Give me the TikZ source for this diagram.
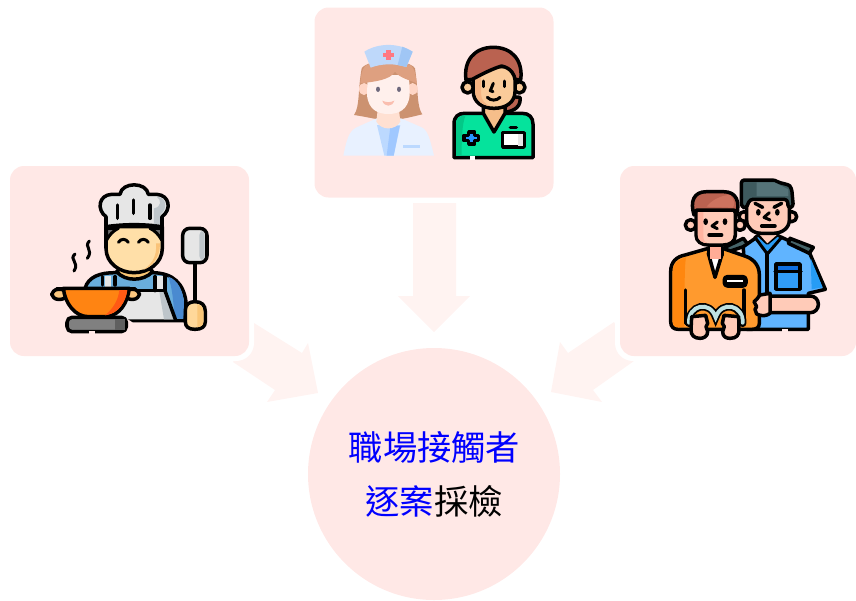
\documentclass[tikz,border=0pt]{standalone}
\usepackage{fontspec}
\newfontfamily\cjk{Noto Sans CJK TC}
\definecolor{boxpink}{HTML}{FFE8E6}
\definecolor{arrowpink}{HTML}{FFF3F1}
\definecolor{skinA}{HTML}{FFCBB8}
\definecolor{skinB}{HTML}{FACB9A}
\definecolor{skinC}{HTML}{FFDFA8}
\definecolor{hairR}{HTML}{BA6250}
\definecolor{greyL}{HTML}{E6E6E6}
\tikzset{
  boxnode/.style={fill=boxpink,rounded corners=14pt,inner sep=0pt,minimum height=190pt},
  halo/.style={fill=white,rounded corners=18pt},
  blockarrow/.style={fill=arrowpink},
  zoomed/.style={x=0.33333pt,y=-0.33333pt},
  ol/.style={draw=black,line width=3.5pt,line join=round,line cap=round},
  ln/.style={draw=black,line width=3.5pt,line cap=round,line join=round},
  lntk/.style={draw=black,line width=3pt,line cap=round,line join=round},
  caption/.style={inner sep=0pt,font=\cjk\fontsize{34.3}{36}\selectfont}
}
\begin{document}
\begin{tikzpicture}[x=1pt,y=-1pt]
\useasboundingbox (0,0) rectangle (856,600);
% block arrows
\path[blockarrow] (413,203) -- (456,203) -- (456,296) -- (470,296) -- (434,332) -- (398,296) -- (413,296) -- cycle;
\path[blockarrow] (254,323) -- (302,353) -- (308,343) -- (318,393) -- (267,402) -- (275,390) -- (233,362) -- cycle;
\path[blockarrow] (614,322) -- (568,353) -- (560,342) -- (551,392) -- (602,402) -- (593,390) -- (634,361) -- cycle;
% halos
\path[halo] (5,161) rectangle (254,361);
\path[halo] (615,161) rectangle (860,361);
% boxes
\node[boxnode,minimum width=239pt] (nurses) at (434,102.5) {};
\node[boxnode,minimum width=239pt] (chef) at (129.5,261) {};
\node[boxnode,minimum width=236pt] (police) at (738,261) {};
\node[circle,fill=boxpink,minimum size=252pt,inner sep=0pt] (hub) at (434,474) {};
\node[caption,text=blue] (line1) at (434.5,447) {職場接觸者};
\node[caption] (line2) at (434,501) {\textcolor{blue}{逐案}採檢};

% ---------- nurse + doctor ----------
\begin{scope}[shift={(315,0)},zoomed]
  % nurse hair back
  \fill[color={rgb,255:red,204;green,146;blue,112}] (140,205) .. controls (128,270) and (135,320) .. (117,345) .. controls (150,350) and (170,355) .. (190,358) -- (250,358) .. controls (275,355) and (300,348) .. (322,343) .. controls (305,320) and (310,270) .. (300,205) .. controls (280,175) and (160,175) .. (140,205) -- cycle;
  % coat
  \fill[color={rgb,255:red,232;green,241;blue,255}] (85,467) .. controls (95,420) and (100,395) .. (125,382) -- (185,355) -- (258,355) -- (320,382) .. controls (340,392) and (345,420) .. (357,467) -- cycle;
  \fill[color={rgb,255:red,188;green,217;blue,255}] (186,375) -- (208,467) -- (236,467) -- (256,375) -- cycle;
  \fill[color={rgb,255:red,160;green,200;blue,255}] (226,380) -- (215,467) -- (236,467) -- (254,378) -- cycle;
  \fill[color={rgb,255:red,188;green,217;blue,255}] (265,434) rectangle (316,444);
  % neck
  \fill[color={rgb,255:red,255;green,224;blue,210}] (188,330) -- (252,330) -- (256,365) .. controls (240,392) and (200,392) .. (184,365) -- cycle;
  % ears
  \fill[color={rgb,255:red,255;green,214;blue,198}] (147,267) ellipse (15 and 18);
  \fill[color={rgb,255:red,255;green,214;blue,198}] (293,267) ellipse (15 and 18);
  % face
  \fill[color={rgb,255:red,255;green,240;blue,236}] (158,225) -- (282,225) -- (284,285) .. controls (280,330) and (250,342) .. (220,342) .. controls (190,342) and (160,330) .. (156,285) -- cycle;
  % fringe
  \fill[color={rgb,255:red,222;green,160;blue,128}] (136,250) .. controls (138,215) and (145,195) .. (165,190) -- (275,190) .. controls (295,195) and (302,215) .. (305,250) .. controls (285,240) and (255,235) .. (240,215) .. controls (225,240) and (180,245) .. (136,250) -- cycle;
  % cap
  \fill[color={rgb,255:red,190;green,216;blue,250}] (148,155) .. controls (190,128) and (250,128) .. (293,155) -- (274,201) .. controls (240,190) and (200,190) .. (167,203) -- cycle;
  \fill[color={rgb,255:red,160;green,198;blue,245}] (262,140) .. controls (272,144) and (283,149) .. (293,155) -- (274,201) -- (248,195) -- cycle;
  \fill[color={rgb,255:red,255;green,120;blue,130}] (214,150) rectangle (227,181);
  \fill[color={rgb,255:red,255;green,120;blue,130}] (205,159) rectangle (236,172);
  % eyes + smile
  \fill[color={rgb,255:red,110;green,105;blue,125}] (189,268) ellipse (6 and 8);
  \fill[color={rgb,255:red,110;green,105;blue,125}] (252,268) ellipse (6 and 8);
  \fill[color={rgb,255:red,250;green,190;blue,175}] (202,302) .. controls (215,308) and (225,308) .. (238,302) .. controls (232,322) and (208,322) .. (202,302) -- cycle;

  % doctor: ponytail
  \path[ol,fill=hairR] (590,290) -- (615,292) .. controls (618,315) and (605,335) .. (560,338) -- cycle;
  % body
  \path[ol,fill={rgb,255:red,5;green,227;blue,156}] (417,473) -- (417,372) .. controls (417,350) and (430,340) .. (448,340) -- (622,340) .. controls (642,340) and (654,352) .. (654,372) -- (654,473) -- cycle;
  \fill[color={rgb,255:red,3;green,200;blue,135}] (423,465) -- (423,372) .. controls (423,358) and (432,347) .. (452,346) .. controls (440,370) and (440,430) .. (440,465) -- cycle;
  \fill[color=white] (464,468) rectangle (480,480);
  % neck V
  \path[ol,fill={rgb,255:red,246;green,190;blue,138}] (505,320) -- (505,340) -- (537,396) -- (570,340) -- (570,320) -- cycle;
  % ears
  \path[ol,fill=skinB] (458,262) circle (17);
  \path[ol,fill=skinB] (613,262) circle (17);
  % head
  \path[ol,fill=skinB] (475,200) -- (600,200) -- (600,275) .. controls (600,305) and (575,325) .. (537,325) .. controls (500,325) and (475,305) .. (475,275) -- cycle;
  \fill[color={rgb,255:red,245;green,180;blue,130}] (480,230) -- (498,220) -- (498,280) .. controls (498,300) and (510,312) .. (525,318) .. controls (495,315) and (480,295) .. (480,270) -- cycle;
  % hair
  \path[ol,fill=hairR] (453,240) .. controls (445,180) and (480,142) .. (535,142) .. controls (590,142) and (625,180) .. (617,240) -- (600,238) .. controls (598,225) and (590,205) .. (560,198) .. controls (535,205) and (495,225) .. (472,238) -- cycle;
  % face features
  \draw[lntk] (504,243) -- (504,260);
  \draw[lntk] (567,243) -- (567,260);
  \draw[lntk] (535,250) -- (526,272) -- (534,275);
  \draw[lntk] (517,292) .. controls (527,303) and (545,303) .. (555,292);
  % cross
  \path[ol,fill={rgb,255:red,40;green,150;blue,255}] (461,396) -- (479,396) -- (479,406) -- (491,406) -- (491,422) -- (479,422) -- (479,432) -- (461,432) -- (461,422) -- (447,422) -- (447,406) -- (461,406) -- cycle;
  % badge
  \path[ol,fill=white] (563,398) rectangle (627,441);
  \fill[color=greyL] (610,402) rectangle (623,437);
  \draw[ln] (586,383) -- (604,383);
\end{scope}

% ---------- chef ----------
\begin{scope}[shift={(0,160)},zoomed]
  % shirt
  \path[ol,fill={rgb,255:red,106;green,174;blue,220}] (255,385) .. controls (265,350) and (300,338) .. (345,338) -- (460,338) .. controls (520,340) and (550,370) .. (558,425) -- (555,482) -- (400,482) -- cycle;
  \fill[color={rgb,255:red,74;green,138;blue,208}] (505,350) .. controls (535,360) and (550,395) .. (552,430) -- (550,476) -- (525,476) -- (518,410) .. controls (515,385) and (510,365) .. (505,350) -- cycle;
  % neck
  \path[ol,fill={rgb,255:red,249;green,198;blue,117}] (350,335) .. controls (375,365) and (430,365) .. (458,335) -- (440,315) -- (370,315) -- cycle;
  % apron
  \fill[color=greyL] (316,348) rectangle (334,380);
  \fill[color=greyL] (470,348) rectangle (490,395);
  \fill[color=greyL] (345,395) -- (500,395) -- (526,478) -- (350,478) -- cycle;
  \fill[color={rgb,255:red,190;green,197;blue,202}] (478,395) -- (500,395) -- (526,478) -- (492,478) -- cycle;
  \draw[ln] (345,350) -- (345,375);
  \draw[ln] (465,350) -- (465,392);
  \draw[ln] (495,350) -- (495,392);
  \draw[ln] (308,350) -- (308,375);
  \draw[ln] (495,392) -- (526,478);
  \draw[ln] (350,392) -- (495,392);
  % face
  \path[ol,fill=skinC] (318,200) -- (487,200) -- (487,265) .. controls (487,310) and (445,338) .. (402,338) .. controls (360,338) and (318,310) .. (318,265) -- cycle;
  \fill[color={rgb,255:red,250;green,195;blue,120}] (480,250) .. controls (480,295) and (455,320) .. (430,330) .. controls (465,305) and (470,280) .. (468,250) -- cycle;
  % side hair
  \path[lntk,fill={rgb,255:red,110;green,110;blue,110}] (320,240) -- (320,205) -- (355,205) .. controls (340,212) and (328,225) .. (320,240) -- cycle;
  \path[lntk,fill={rgb,255:red,110;green,110;blue,110}] (485,240) -- (485,205) -- (450,205) .. controls (465,212) and (477,225) .. (485,240) -- cycle;
  % hat
  \path[ol,fill=greyL] (318,200) -- (318,170) .. controls (290,150) and (295,105) .. (335,103) -- (360,103) .. controls (365,65) and (440,65) .. (445,103) -- (470,103) .. controls (510,105) and (515,150) .. (486,170) -- (486,200) .. controls (430,192) and (375,192) .. (318,200) -- cycle;
  \fill[color={rgb,255:red,190;green,197;blue,202}] (470,110) .. controls (500,112) and (505,145) .. (480,165) -- (480,192) -- (462,192) -- (462,145) .. controls (485,140) and (485,120) .. (470,110) -- cycle;
  \draw[ln] (352,135) -- (352,175);
  \draw[ln] (401,120) -- (401,160);
  \draw[ln] (450,135) -- (450,175);
  % eyes
  \draw[lntk] (355,247) .. controls (362,235) and (378,235) .. (385,247);
  \draw[lntk] (415,247) .. controls (422,235) and (438,235) .. (445,247);
  % steam
  \draw[lntk] (225,282) .. controls (205,300) and (240,305) .. (222,333);
  \draw[lntk] (268,243) .. controls (250,262) and (282,268) .. (262,295);
  % spatula
  \draw[ln] (585,310) -- (585,425);
  \path[ol,fill=greyL,rounded corners=7pt] (548,205) rectangle (621,308);
  \fill[color={rgb,255:red,190;green,197;blue,202},rounded corners=4pt] (598,213) rectangle (614,300);
  % hand
  \path[ol,fill={rgb,255:red,255;green,216;blue,154}] (556,450) .. controls (556,432) and (570,425) .. (585,425) .. controls (605,425) and (616,435) .. (616,455) -- (616,485) .. controls (616,500) and (605,508) .. (585,508) .. controls (565,508) and (556,500) .. (556,485) -- cycle;
  \fill[color={rgb,255:red,250;green,198;blue,120}] (592,432) .. controls (606,436) and (610,445) .. (610,455) -- (610,485) .. controls (610,495) and (605,500) .. (592,502) -- cycle;
  % stove
  \path[ol,fill={rgb,255:red,128;green,128;blue,128},rounded corners=5pt] (201,472) rectangle (379,515);
  \fill[color={rgb,255:red,95;green,95;blue,95}] (345,476) rectangle (375,511);
  \fill[color=boxpink] (266,512) rectangle (284,522);
  % pan handles
  \path[ol,fill={rgb,255:red,251;green,199;blue,127},rounded corners=6pt] (156,388) rectangle (200,418);
  \path[ol,fill={rgb,255:red,251;green,199;blue,127},rounded corners=6pt] (375,388) rectangle (418,418);
  % pan
  \path[ol,fill={rgb,255:red,255;green,132;blue,18}] (190,385) .. controls (195,430) and (225,470) .. (265,470) -- (320,470) .. controls (360,465) and (382,430) .. (388,385) -- cycle;
  \fill[color={rgb,255:red,255;green,90;blue,20}] (358,390) -- (382,390) .. controls (378,425) and (355,462) .. (315,466) .. controls (340,445) and (355,420) .. (358,390) -- cycle;
  \draw[ln] (170,385) -- (405,385);
\end{scope}

% ---------- officer + prisoner ----------
\begin{scope}[shift={(540,160)},zoomed]
  % epaulets
  \path[ol,fill={rgb,255:red,70;green,100;blue,105}] (555,262) -- (610,235) -- (625,255) -- (565,275) -- cycle;
  % officer body
  \path[ol,fill={rgb,255:red,96;green,180;blue,255}] (610,260) -- (650,232) -- (725,232) -- (805,270) -- (856,388) -- (805,400) -- (805,508) -- (620,508) -- cycle;
  \fill[color={rgb,255:red,38;green,156;blue,245}] (812,295) -- (848,382) -- (815,388) -- cycle;
  \path[ol,fill={rgb,255:red,70;green,100;blue,105}] (750,235) -- (820,262) -- (808,280) -- (745,250) -- cycle;
  % collar
  \path[lntk,fill={rgb,255:red,40;green,155;blue,245}] (645,232) -- (682,282) -- (725,232) -- (712,225) -- (682,250) -- (655,225) -- cycle;
  \draw[ln] (681,280) -- (681,405);
  % pocket
  \path[ol,fill={rgb,255:red,48;green,156;blue,247}] (708,312) rectangle (780,388);
  \fill[color={rgb,255:red,15;green,110;blue,225}] (714,318) rectangle (774,330);
  \draw[ln] (705,335) -- (783,335);
  \fill[color=boxpink] (725,506) rectangle (745,518);
  % neck officer
  \fill[color=skinA] (660,225) -- (710,225) -- (682,250) -- cycle;
  % officer ears
  \path[ol,fill=skinA] (612,170) circle (15);
  \path[ol,fill=skinA] (755,170) circle (15);
  % officer head
  \path[ol,fill=skinA] (620,115) -- (748,115) -- (748,180) .. controls (748,205) and (725,220) .. (700,220) -- (665,220) .. controls (640,220) and (620,205) .. (620,180) -- cycle;
  % officer hair
  \path[ol,fill={rgb,255:red,62;green,90;blue,94},rounded corners=3pt] (604,60) -- (705,60) .. controls (720,70) and (745,72) .. (755,85) -- (760,140) -- (745,145) -- (742,118) -- (630,118) -- (618,145) -- (604,140) -- cycle;
  \fill[color={rgb,255:red,85;green,115;blue,120}] (650,67) -- (703,67) -- (745,88) -- (745,108) -- (650,108) -- cycle;
  % officer face
  \draw[ln] (645,130) -- (668,142);
  \draw[ln] (725,130) -- (702,142);
  \fill (655,157) ellipse (7 and 10);
  \fill (712,157) ellipse (7 and 10);
  \draw[lntk] (688,158) -- (672,172) -- (690,180);
  \draw[ln] (665,198) -- (705,198);
  % officer arm
  \path[ol,fill=skinA,rounded corners=8pt] (670,408) -- (835,408) -- (835,458) -- (670,458) -- cycle;

  % prisoner body
  \path[ol,fill={rgb,255:red,255;green,154;blue,46}] (392,335) .. controls (392,305) and (410,290) .. (435,285) -- (505,265) -- (548,265) -- (620,290) .. controls (645,300) and (658,320) .. (658,345) -- (658,490) .. controls (658,503) and (648,508) .. (635,508) -- (415,508) .. controls (400,508) and (392,500) .. (392,485) -- cycle;
  \fill[color={rgb,255:red,255;green,135;blue,15}] (398,335) .. controls (398,315) and (410,300) .. (438,292) .. controls (432,330) and (435,400) .. (433,500) -- (415,502) .. controls (405,502) and (398,495) .. (398,485) -- cycle;
  % neck
  \path[ol,fill=white] (505,280) -- (525,352) -- (547,280) -- cycle;
  \fill[color={rgb,255:red,255;green,172;blue,150}] (510,258) rectangle (543,296);
  \draw[ln] (505,262) -- (505,285);
  \draw[ln] (547,262) -- (547,285);
  % name tag
  \path[ol,fill=black,rounded corners=3pt] (553,350) rectangle (618,378);
  \fill[color=white] (562,360) rectangle (608,367);
  % arm lines
  \draw[ln] (436,390) -- (436,490);
  \draw[ln] (612,390) -- (612,490);
  % ears
  \path[ol,fill=skinA] (452,195) circle (16);
  \path[ol,fill=skinA] (600,195) circle (16);
  % head
  \path[ol,fill=skinA] (468,145) -- (586,145) -- (586,225) .. controls (586,245) and (570,255) .. (550,255) -- (505,255) .. controls (485,255) and (468,245) .. (468,225) -- cycle;
  \fill[color={rgb,255:red,255;green,180;blue,160}] (473,150) -- (490,150) -- (490,230) .. controls (490,240) and (495,248) .. (505,250) .. controls (485,250) and (473,240) .. (473,225) -- cycle;
  % hair
  \path[ol,fill=hairR] (462,165) .. controls (450,125) and (460,95) .. (500,95) -- (550,95) .. controls (590,95) and (600,125) .. (590,165) -- (582,150) -- (470,150) -- cycle;
  \fill[color={rgb,255:red,205;green,115;blue,95}] (500,140) .. controls (515,120) and (545,105) .. (570,105) .. controls (585,120) and (585,135) .. (578,143) -- cycle;
  % face
  \fill (497,185) ellipse (7 and 10);
  \fill (555,185) ellipse (7 and 10);
  \draw[lntk] (532,186) -- (516,198) -- (532,206);
  \draw[ln] (507,225) -- (545,225);
  % handcuffs
  \draw[draw=black,line width=7.5pt,line cap=round] (447,490) .. controls (445,435) and (510,420) .. (527,472) .. controls (545,420) and (610,435) .. (608,490);
  \draw[draw={rgb,255:red,190;green,225;blue,225},line width=4pt,line cap=round] (447,488) .. controls (445,435) and (510,420) .. (527,472) .. controls (545,420) and (610,435) .. (608,488);
  % hands
  \path[ol,fill=skinA] (455,470) -- (497,466) -- (503,490) -- (498,500) -- (503,515) .. controls (503,530) and (490,535) .. (480,535) .. controls (462,535) and (453,525) .. (453,510) -- cycle;
  \path[ol,fill=skinA] (552,466) -- (596,470) -- (597,510) .. controls (597,525) and (590,535) .. (570,535) .. controls (558,535) and (548,530) .. (548,515) -- (553,500) -- (547,490) -- cycle;
  % officer fist
  \path[ol,fill=skinA] (660,405) -- (690,400) -- (690,460) .. controls (680,468) and (665,470) .. (650,462) -- (645,448) -- (650,440) -- (642,425) -- (650,418) -- cycle;
\end{scope}
\end{tikzpicture}
\end{document}
